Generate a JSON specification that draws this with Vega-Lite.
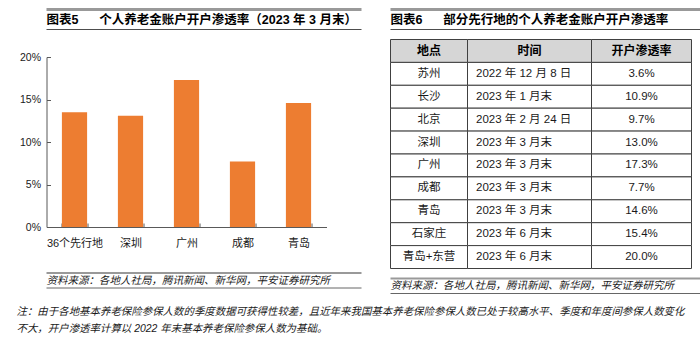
{
  "$schema": "https://vega.github.io/schema/vega-lite/v6.json",
  "background": "white",
  "padding": {"left": 15.5, "top": 7.5, "right": 5, "bottom": 5},
  "config": {
    "font": "Liberation Sans, Noto Sans CJK SC, sans-serif",
    "view": {"stroke": null},
    "axis": {
      "labelFont": "Liberation Sans, Noto Sans CJK SC, sans-serif",
      "domainColor": "#595959",
      "tickColor": "#595959",
      "labelColor": "#1a1a1a",
      "grid": false,
      "title": null
    },
    "text": {"font": "Liberation Sans, Noto Sans CJK SC, sans-serif", "color": "#1a1a1a"}
  },
  "datasets": {
    "bars": [
      {"region": "36个先行地", "rate": 0.135},
      {"region": "深圳", "rate": 0.131},
      {"region": "广州", "rate": 0.173},
      {"region": "成都", "rate": 0.077},
      {"region": "青岛", "rate": 0.146}
    ],
    "table": [
      {"place": "地点", "time": "时间", "rate": "开户渗透率"},
      {"place": "苏州", "time": "2022 年 12 月 8 日", "rate": "3.6%"},
      {"place": "长沙", "time": "2023 年 1 月末", "rate": "10.9%"},
      {"place": "北京", "time": "2023 年 2 月 24 日", "rate": "9.7%"},
      {"place": "深圳", "time": "2023 年 3 月末", "rate": "13.0%"},
      {"place": "广州", "time": "2023 年 3 月末", "rate": "17.3%"},
      {"place": "成都", "time": "2023 年 3 月末", "rate": "7.7%"},
      {"place": "青岛", "time": "2023 年 3 月末", "rate": "14.6%"},
      {"place": "石家庄", "time": "2023 年 6 月末", "rate": "15.4%"},
      {"place": "青岛+东营", "time": "2023 年 6 月末", "rate": "20.0%"}
    ],
    "notes": [
      {"panel": "left", "kind": "title", "text": "图表5\u00a0\u00a0\u00a0\u00a0\u00a0\u00a0个人养老金账户开户渗透率（2023 年 3 月末）"},
      {"panel": "right", "kind": "title", "text": "图表6\u00a0\u00a0\u00a0\u00a0\u00a0\u00a0部分先行地的个人养老金账户开户渗透率"},
      {"panel": "left", "kind": "source", "text": "资料来源：各地人社局，腾讯新闻、新华网，平安证券研究所"},
      {"panel": "right", "kind": "source", "text": "资料来源：各地人社局，腾讯新闻、新华网，平安证券研究所"}
    ]
  },
  "title": {
    "text": [
      "注：由于各地基本养老保险参保人数的季度数据可获得性较差，且近年来我国基本养老保险参保人数已处于较高水平、季度和年度间参保人数变化",
      "不大，开户渗透率计算以 2022 年末基本养老保险参保人数为基础。"
    ],
    "orient": "bottom",
    "anchor": "start",
    "frame": "bounds",
    "font": "Liberation Sans, Noto Sans CJK SC, sans-serif",
    "fontSize": 10.45,
    "fontStyle": "italic",
    "fontWeight": "normal",
    "color": "#1a1a1a",
    "lineHeight": 16.5,
    "offset": 13,
    "dx": -3
  },
  "spacing": 25,
  "hconcat": [
    {
      "spacing": 23.5,
      "vconcat": [
        {
          "spacing": 21.5,
          "vconcat": [
            {
              "width": 315,
              "height": 20,
              "data": {"name": "notes"},
              "transform": [{"filter": "datum.panel === 'left' && datum.kind === 'title'"}],
              "layer": [
                {"mark": {"type": "rule", "color": "#999999", "strokeWidth": 3},
                 "encoding": {"y": {"datum": 1, "type": "quantitative", "scale": {"domain": [0, 1]}, "axis": null}}},
                {"mark": {"type": "rule", "color": "#4d4d4d", "strokeWidth": 1},
                 "encoding": {"y": {"datum": 0, "type": "quantitative"}}},
                {"mark": {"type": "text", "align": "left", "baseline": "middle", "fontWeight": "bold", "fontSize": 12.5, "color": "#000000"},
                 "encoding": {
                   "x": {"datum": 0, "type": "quantitative", "scale": {"domain": [0, 1]}, "axis": null},
                   "y": {"datum": 0.5, "type": "quantitative"},
                   "text": {"field": "text"}
                 }}
              ]
            },
            {
              "width": 280,
              "height": 170,
              "data": {"name": "bars"},
              "mark": {"type": "bar", "color": "#ED7D31"},
              "encoding": {
                "x": {
                  "field": "region", "type": "nominal", "sort": null,
                  "scale": {"paddingInner": 0.55, "paddingOuter": 0.275},
                  "axis": {"labelAngle": 0, "tickBand": "extent", "tickSize": -4, "labelPadding": 14, "labelFontSize": 11, "labelFont": "Liberation Sans, Noto Sans CJK SC, sans-serif"}
                },
                "y": {
                  "field": "rate", "type": "quantitative",
                  "scale": {"domain": [0, 0.2]},
                  "axis": {"values": [0, 0.05, 0.1, 0.15, 0.2], "format": ".0%", "tickSize": -4, "labelPadding": 10, "labelFontSize": 10.5}
                }
              }
            }
          ]
        },
        {
          "width": 315,
          "height": 15,
          "data": {"name": "notes"},
          "transform": [{"filter": "datum.panel === 'left' && datum.kind === 'source'"}],
          "layer": [
            {"mark": {"type": "rule", "color": "#999999", "strokeWidth": 2},
             "encoding": {"y": {"datum": 1, "type": "quantitative", "scale": {"domain": [0, 1]}, "axis": null}}},
            {"mark": {"type": "rule", "color": "#666666", "strokeWidth": 1},
             "encoding": {"y": {"datum": 0, "type": "quantitative"}}},
            {"mark": {"type": "text", "align": "left", "baseline": "middle", "fontStyle": "italic", "fontSize": 10.5},
             "encoding": {
               "x": {"datum": 0, "type": "quantitative", "scale": {"domain": [0, 1]}, "axis": null},
               "y": {"datum": 0.5, "type": "quantitative"},
               "text": {"field": "text"}
             }}
          ]
        }
      ]
    },
    {
      "spacing": 8,
      "vconcat": [
        {
          "width": 316,
          "height": 20,
          "data": {"name": "notes"},
          "transform": [{"filter": "datum.panel === 'right' && datum.kind === 'title'"}],
          "layer": [
            {"mark": {"type": "rule", "color": "#999999", "strokeWidth": 3},
             "encoding": {"y": {"datum": 1, "type": "quantitative", "scale": {"domain": [0, 1]}, "axis": null}}},
            {"mark": {"type": "rule", "color": "#4d4d4d", "strokeWidth": 1},
             "encoding": {"y": {"datum": 0, "type": "quantitative"}}},
            {"mark": {"type": "text", "align": "left", "baseline": "middle", "fontWeight": "bold", "fontSize": 12.5, "color": "#000000"},
             "encoding": {
               "x": {"datum": 0, "type": "quantitative", "scale": {"domain": [0, 1]}, "axis": null},
               "y": {"datum": 0.5, "type": "quantitative"},
               "text": {"field": "text"}
             }}
          ]
        },
        {
          "spacing": 0,
          "bounds": "flush",
          "hconcat": [
            {
              "width": 77,
              "height": 229,
              "data": {"name": "table"},
              "layer": [
                {"mark": {"type": "rect", "stroke": "#404040", "strokeWidth": 1},
                 "encoding": {
                   "y": {"field": "place", "type": "nominal", "sort": null, "axis": null, "scale": {"paddingInner": 0, "paddingOuter": 0}},
                   "fill": {"condition": {"test": "datum.place === '地点'", "value": "#d6d6d6"}, "value": "#ffffff"}
                 }},
                {"mark": {"type": "text", "baseline": "middle", "fontSize": 12, "fontWeight": "bold", "color": "#000000"},
                 "encoding": {
                   "y": {"field": "place", "type": "nominal", "sort": null},
                   "text": {"condition": {"test": "datum.place === '地点'", "field": "place"}, "value": ""}
                 }},
                {"mark": {"type": "text", "baseline": "middle", "fontSize": 11.5},
                 "encoding": {
                   "y": {"field": "place", "type": "nominal", "sort": null},
                   "text": {"condition": {"test": "datum.place !== '地点'", "field": "place"}, "value": ""}
                 }}
              ]
            },
            {
              "width": 124,
              "height": 229,
              "data": {"name": "table"},
              "layer": [
                {"mark": {"type": "rect", "stroke": "#404040", "strokeWidth": 1},
                 "encoding": {
                   "y": {"field": "place", "type": "nominal", "sort": null, "axis": null, "scale": {"paddingInner": 0, "paddingOuter": 0}},
                   "fill": {"condition": {"test": "datum.place === '地点'", "value": "#d6d6d6"}, "value": "#ffffff"}
                 }},
                {"mark": {"type": "text", "baseline": "middle", "fontSize": 12, "fontWeight": "bold", "color": "#000000"},
                 "encoding": {
                   "y": {"field": "place", "type": "nominal", "sort": null},
                   "text": {"condition": {"test": "datum.place === '地点'", "field": "time"}, "value": ""}
                 }},
                {"mark": {"type": "text", "baseline": "middle", "align": "left", "dx": 8.5, "fontSize": 11.5},
                 "encoding": {
                   "x": {"datum": 0, "type": "quantitative", "scale": {"domain": [0, 1]}, "axis": null},
                   "y": {"field": "place", "type": "nominal", "sort": null},
                   "text": {"condition": {"test": "datum.place !== '地点'", "field": "time"}, "value": ""}
                 }}
              ]
            },
            {
              "width": 100,
              "height": 229,
              "data": {"name": "table"},
              "layer": [
                {"mark": {"type": "rect", "stroke": "#404040", "strokeWidth": 1},
                 "encoding": {
                   "y": {"field": "place", "type": "nominal", "sort": null, "axis": null, "scale": {"paddingInner": 0, "paddingOuter": 0}},
                   "fill": {"condition": {"test": "datum.place === '地点'", "value": "#d6d6d6"}, "value": "#ffffff"}
                 }},
                {"mark": {"type": "text", "baseline": "middle", "fontSize": 12, "fontWeight": "bold", "color": "#000000"},
                 "encoding": {
                   "y": {"field": "place", "type": "nominal", "sort": null},
                   "text": {"condition": {"test": "datum.place === '地点'", "field": "rate"}, "value": ""}
                 }},
                {"mark": {"type": "text", "baseline": "middle", "fontSize": 11.5},
                 "encoding": {
                   "y": {"field": "place", "type": "nominal", "sort": null},
                   "text": {"condition": {"test": "datum.place !== '地点'", "field": "rate"}, "value": ""}
                 }}
              ]
            }
          ]
        },
        {
          "width": 316,
          "height": 15,
          "data": {"name": "notes"},
          "transform": [{"filter": "datum.panel === 'right' && datum.kind === 'source'"}],
          "layer": [
            {"mark": {"type": "rule", "color": "#999999", "strokeWidth": 2},
             "encoding": {"y": {"datum": 1, "type": "quantitative", "scale": {"domain": [0, 1]}, "axis": null}}},
            {"mark": {"type": "rule", "color": "#666666", "strokeWidth": 1},
             "encoding": {"y": {"datum": 0, "type": "quantitative"}}},
            {"mark": {"type": "text", "align": "left", "baseline": "middle", "fontStyle": "italic", "fontSize": 10.5},
             "encoding": {
               "x": {"datum": 0, "type": "quantitative", "scale": {"domain": [0, 1]}, "axis": null},
               "y": {"datum": 0.5, "type": "quantitative"},
               "text": {"field": "text"}
             }}
          ]
        }
      ]
    }
  ]
}
